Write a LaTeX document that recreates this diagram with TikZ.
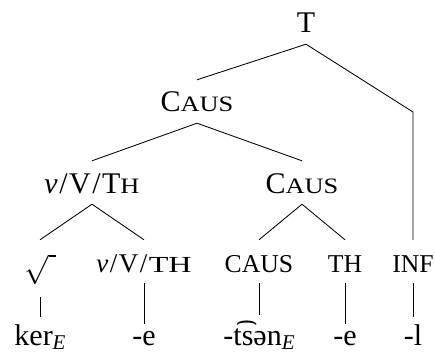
\documentclass[tikz,border=0pt]{standalone}
\usepackage{fontspec}
\usepackage{graphicx}
\setmainfont{Liberation Serif}
% stretched faces standing in for small capitals
\newfontfamily\wideserif[FakeStretch=1.2]{Liberation Serif}
\newfontfamily\widerserif[FakeStretch=1.4]{Liberation Serif}
\newcommand\capsz{\fontsize{30}{36}\selectfont}
\newcommand\smsz{\fontsize{22}{26}\selectfont}
\newcommand\lowsz{\fontsize{25.7}{30}\selectfont}
\newcommand\subE{\raisebox{-4pt}{\fontsize{21}{24}\selectfont\textit{E}}}
\newcommand\slsep{\kern1.5pt/\kern1.5pt}

\tikzset{
  cat/.style={anchor=base, inner xsep=0pt, inner ysep=11pt,
              text height=21pt, text depth=0pt, font=\capsz},
  word/.style={anchor=base, inner xsep=0pt, inner ysep=6.5pt, font=\capsz},
  edge/.style={line width=0.85pt}
}

\begin{document}
\begin{tikzpicture}[x=1pt,y=1pt]
\useasboundingbox (0,0) rectangle (435,356);

% category labels
\node[cat] (T)     at (306,323) {T};
\node[cat] (caus1) at (197,244) {C{\wideserif\smsz AUS}};
\node[cat] (vvth1) at (92,163)  {\textit{v}\slsep V\slsep T{\wideserif\smsz H}};
\node[cat] (caus2) at (302,163) {C{\wideserif\smsz AUS}};
\node[cat,text depth=14pt] (root) at (40,84) {\raisebox{1pt}{\scalebox{1.18}{$\sqrt{\hspace{6pt}}$}}};
\node[cat,font=\lowsz] (vvth2) at (144,84) {\fontsize{27}{30}\selectfont\textit{v}\slsep V\slsep{\widerserif\fontsize{23}{26}\selectfont TH}};
\node[cat,font=\lowsz] (caus3) at (259,84) {CAUS};
\node[cat,font=\lowsz] (th)    at (345,84) {TH};
\node[cat,font=\lowsz] (inf)   at (413,84) {INF};

% exponents
\node[word] (ker)  at (40,11)  {ker\subE};
\node[word] (e1)   at (144,11) {-e};
\node[word] (tsen) at (259,11) {-t͡sən\subE};
\node[word] (e2)   at (345,11) {-e};
\node[word] (l)    at (413,11) {-l};

% branches
\coordinate (bend) at (413,244);
\draw[edge] (T.south) -- (caus1.north);
\draw[edge] (T.south) -- (bend) -- (inf.north);
\draw[edge] (caus1.south) -- (vvth1.north);
\draw[edge] (caus1.south) -- (caus2.north);
\draw[edge] (vvth1.south) -- (root.north);
\draw[edge] (vvth1.south) -- (vvth2.north);
\draw[edge] (caus2.south) -- (caus3.north);
\draw[edge] (caus2.south) -- (th.north);

% lines down to the exponents
\draw[edge] (root.south)  -- (root.south  |- ker.north);
\draw[edge] (vvth2.south) -- (vvth2.south |- e1.north);
\draw[edge] (caus3.south) -- (caus3.south |- tsen.north);
\draw[edge] (th.south)    -- (th.south    |- e2.north);
\draw[edge] (inf.south)   -- (inf.south   |- l.north);
\end{tikzpicture}
\end{document}
